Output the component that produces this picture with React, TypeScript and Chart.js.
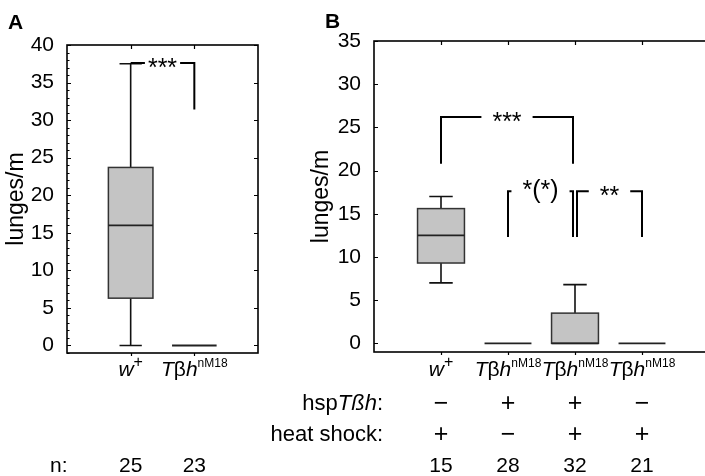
import React, { useEffect, useRef } from 'react';
import { Chart, registerables } from 'chart.js';
Chart.register(...registerables);

const FONT = '"Liberation Sans", Arial, Helvetica, sans-serif';

type Part = { t: string; it?: boolean; sup?: number };

// ---------- Panel A data ----------
const catPosA = [1, 2];
const minA = [0, 0];
const q1A = [6.3, 0];
const medA = [16, 0];
const q3A = [23.7, 0];
const maxA = [37.5, 0];
const nA = ['25', '23'];
const yTicksA = [0, 5, 10, 15, 20, 25, 30, 35, 40];
const sigFromA = [1];
const sigToA = [2];
const sigTopA = [37.6];
const sigLeftEndA = [37.6];
const sigRightEndA = [31.4];
const sigTextA = ['***'];

// ---------- Panel B data ----------
const catPosB = [1, 2, 3, 4];
const minB = [7, 0, 0, 0];
const q1B = [9.3, 0, 0, 0];
const medB = [12.5, 0, 0, 0];
const q3B = [15.6, 0, 3.5, 0];
const maxB = [17, 0, 6.8, 0];
const hspB = ['−', '+', '+', '−'];
const heatB = ['+', '−', '+', '+'];
const nB = ['15', '28', '32', '21'];
const yTicksB = [0, 5, 10, 15, 20, 25, 30, 35];
const sigFromB = [1, 2, 3];
const sigToB = [3, 3, 4];
const sigTopB = [26.2, 17.6, 17.6];
const sigLeftEndB = [20.8, 12.3, 12.3];
const sigRightEndB = [20.8, 12.3, 12.3];
const sigTextB = ['***', '*(*)', '**'];

// ---------- Labels ----------
const labelWt: Part[] = [{ t: 'w', it: true }, { t: '+', sup: 0.75 }];
const labelTbh: Part[] = [{ t: 'T', it: true }, { t: 'β' }, { t: 'h', it: true }, { t: 'nM18', sup: 0.55 }];
const catLabelsA = [labelWt, labelTbh];
const catLabelsB = [labelWt, labelTbh, labelTbh, labelTbh];
const rowLabelHsp: Part[] = [{ t: 'hsp' }, { t: 'Tßh', it: true }, { t: ':' }];
const rowLabelHeat: Part[] = [{ t: 'heat shock:' }];
const yTitle = 'lunges/m';

interface Panel {
  letter: string;
  letterX: number;
  letterY: number;
  xMax: number;
  yMin: number;
  yMax: number;
  axisW: number;
  padding: { top: number; bottom: number; left: number; right: number };
  yTicks: number[];
  minor: boolean;
  cats: number[];
  min: number[];
  q1: number[];
  med: number[];
  q3: number[];
  max: number[];
  labels: Part[][];
  rows: { label: Part[]; values: string[] }[];
  n: string[];
  nLabel: boolean;
  sigFrom: number[];
  sigTo: number[];
  sigTop: number[];
  sigLeftEnd: number[];
  sigRightEnd: number[];
  sigText: string[];
  sigPad: number;
  titleX: number;
}

const WA = 300; // width of panel A canvas
const OFFB = 240; // left offset of panel B canvas on the page
const WB = 480;

const panelA: Panel = {
  letter: 'A', letterX: 8, letterY: 29,
  xMax: 3, yMin: -1, yMax: 40, axisW: 67,
  padding: { top: 45, bottom: 123, left: 0, right: WA - 258 },
  yTicks: yTicksA, minor: true,
  cats: catPosA, min: minA, q1: q1A, med: medA, q3: q3A, max: maxA,
  labels: catLabelsA, rows: [], n: nA, nLabel: true,
  sigFrom: sigFromA, sigTo: sigToA, sigTop: sigTopA, sigLeftEnd: sigLeftEndA, sigRightEnd: sigRightEndA, sigText: sigTextA,
  sigPad: 3, titleX: 17,
};

const panelB: Panel = {
  letter: 'B', letterX: 325 - OFFB, letterY: 28,
  xMax: 5, yMin: -1, yMax: 35, axisW: 374 - OFFB,
  padding: { top: 41, bottom: 124, left: 0, right: WB - (709 - OFFB) },
  yTicks: yTicksB, minor: false,
  cats: catPosB, min: minB, q1: q1B, med: medB, q3: q3B, max: maxB,
  labels: catLabelsB,
  rows: [{ label: rowLabelHsp, values: hspB }, { label: rowLabelHeat, values: heatB }],
  n: nB, nLabel: false,
  sigFrom: sigFromB, sigTo: sigToB, sigTop: sigTopB, sigLeftEnd: sigLeftEndB, sigRightEnd: sigRightEndB, sigText: sigTextB,
  sigPad: 11, titleX: 322 - OFFB,
};

function partFont(p: Part, size: number) {
  const s = p.sup ? Math.round(size * p.sup) : size;
  return `${p.it ? 'italic ' : ''}${s}px ${FONT}`;
}
function richWidth(ctx: CanvasRenderingContext2D, parts: Part[], size: number) {
  let w = 0;
  for (const p of parts) {
    ctx.font = partFont(p, size);
    w += ctx.measureText(p.t).width;
  }
  return w;
}
function drawRich(ctx: CanvasRenderingContext2D, parts: Part[], x: number, baseline: number, size: number, align: 'left' | 'center' | 'right') {
  const w = richWidth(ctx, parts, size);
  let cx = align === 'center' ? x - w / 2 : align === 'right' ? x - w : x;
  ctx.textAlign = 'left';
  ctx.textBaseline = 'alphabetic';
  for (const p of parts) {
    ctx.font = partFont(p, size);
    ctx.fillText(p.t, cx, p.sup ? baseline - size * 0.42 : baseline);
    cx += ctx.measureText(p.t).width;
  }
}

function drawPanel(chart: Chart, P: Panel) {
  const ctx = chart.ctx;
  const a = chart.chartArea;
  const xs = chart.scales.x;
  const ys = chart.scales.y;
  const X = (v: number) => xs.getPixelForValue(v);
  const Y = (v: number) => ys.getPixelForValue(v);
  ctx.save();
  ctx.fillStyle = '#000';
  ctx.strokeStyle = '#000';

  // frame
  ctx.lineWidth = 1.6;
  ctx.strokeRect(a.left, a.top, a.right - a.left, a.bottom - a.top);

  // ticks
  ctx.lineWidth = 1.2;
  ctx.beginPath();
  for (const v of P.yTicks) {
    const py = Math.round(Y(v)) + 0.5;
    ctx.moveTo(a.left, py); ctx.lineTo(a.left + 4, py);
    ctx.moveTo(a.right, py); ctx.lineTo(a.right - 4, py);
  }
  if (P.minor) {
    for (let v = Math.ceil(P.yMin); v <= P.yMax; v++) {
      if (P.yTicks.includes(v)) continue;
      const py = Math.round(Y(v)) + 0.5;
      ctx.moveTo(a.left, py); ctx.lineTo(a.left + 2.5, py);
    }
  }
  for (const c of P.cats) {
    const px = Math.round(X(c)) + 0.5;
    ctx.moveTo(px, a.top); ctx.lineTo(px, a.top + 4);
    ctx.moveTo(px, a.bottom); ctx.lineTo(px, a.bottom + 3);
  }
  ctx.stroke();

  // boxes
  const unit = X(1) - X(0);
  const boxHalf = unit * 0.35;
  const capHalf = unit * 0.175;
  P.cats.forEach((c, i) => {
    const cx = X(c);
    const yq1 = Y(P.q1[i]);
    const yq3 = Y(P.q3[i]);
    ctx.strokeStyle = '#111';
    ctx.lineWidth = 1.6;
    ctx.beginPath();
    if (P.max[i] > P.q3[i]) {
      ctx.moveTo(cx, yq3); ctx.lineTo(cx, Y(P.max[i]));
      ctx.moveTo(cx - capHalf, Y(P.max[i])); ctx.lineTo(cx + capHalf, Y(P.max[i]));
    }
    if (P.min[i] < P.q1[i]) {
      ctx.moveTo(cx, yq1); ctx.lineTo(cx, Y(P.min[i]));
      ctx.moveTo(cx - capHalf, Y(P.min[i])); ctx.lineTo(cx + capHalf, Y(P.min[i]));
    }
    ctx.stroke();
    if (P.q3[i] > P.q1[i]) {
      ctx.fillStyle = '#c4c4c4';
      ctx.fillRect(cx - boxHalf, yq3, boxHalf * 2, yq1 - yq3);
      ctx.strokeStyle = '#333';
      ctx.lineWidth = 1.5;
      ctx.strokeRect(cx - boxHalf, yq3, boxHalf * 2, yq1 - yq3);
    }
    ctx.strokeStyle = '#222';
    ctx.lineWidth = 1.8;
    ctx.beginPath();
    ctx.moveTo(cx - boxHalf, Y(P.med[i]));
    ctx.lineTo(cx + boxHalf, Y(P.med[i]));
    ctx.stroke();
  });

  // significance brackets
  ctx.strokeStyle = '#000';
  ctx.fillStyle = '#000';
  P.sigFrom.forEach((f, k) => {
    const t = P.sigTo[k];
    let xl = X(f);
    let xr = X(t);
    if (P.sigFrom.some((ff, j) => j !== k && ff === t)) xr -= 2;
    if (P.sigTo.some((tt, j) => j !== k && tt === f)) xl += 2;
    const yt = Y(P.sigTop[k]);
    ctx.lineWidth = 2;
    ctx.beginPath();
    ctx.moveTo(xl, Y(P.sigLeftEnd[k]));
    ctx.lineTo(xl, yt);
    ctx.lineTo(xr, yt);
    ctx.lineTo(xr, Y(P.sigRightEnd[k]));
    ctx.stroke();
    ctx.font = `25px ${FONT}`;
    const m = ctx.measureText(P.sigText[k]);
    const mx = (xl + xr) / 2;
    ctx.fillStyle = '#fff';
    ctx.fillRect(mx - m.width / 2 - P.sigPad, yt - 4, m.width + 2 * P.sigPad, 8);
    ctx.fillStyle = '#000';
    ctx.textAlign = 'center';
    ctx.textBaseline = 'alphabetic';
    const base = yt + (m.actualBoundingBoxAscent - m.actualBoundingBoxDescent) / 2;
    ctx.fillText(P.sigText[k], mx, base);
  });

  // category labels
  ctx.fillStyle = '#000';
  P.cats.forEach((c, i) => drawRich(ctx, P.labels[i], X(c), 376, 21, 'center'));

  // rows
  const rowBase = [410, 441];
  P.rows.forEach((r, ri) => {
    drawRich(ctx, r.label, a.left + 9, rowBase[ri], 22, 'right');
    ctx.font = `25px ${FONT}`;
    ctx.textAlign = 'center';
    ctx.textBaseline = 'alphabetic';
    P.cats.forEach((c, i) => ctx.fillText(r.values[i], X(c), rowBase[ri] + 1));
  });

  // n row
  ctx.font = `21px ${FONT}`;
  ctx.textAlign = 'center';
  ctx.textBaseline = 'alphabetic';
  P.cats.forEach((c, i) => ctx.fillText(P.n[i], X(c), 472));
  if (P.nLabel) {
    ctx.textAlign = 'left';
    ctx.fillText('n:', 50, 472);
  }

  // panel letter
  ctx.font = `bold 21px ${FONT}`;
  ctx.textAlign = 'left';
  ctx.fillText(P.letter, P.letterX, P.letterY);

  // y title
  ctx.save();
  ctx.translate(P.titleX, (a.top + a.bottom) / 2);
  ctx.rotate(-Math.PI / 2);
  ctx.font = `23px ${FONT}`;
  ctx.textAlign = 'center';
  ctx.textBaseline = 'middle';
  ctx.fillText(yTitle, 0, 0);
  ctx.restore();

  ctx.restore();
}

function makeChart(canvas: HTMLCanvasElement, P: Panel) {
  return new Chart(canvas, {
    type: 'scatter',
    data: { datasets: [{ data: [] }] },
    options: {
      responsive: false,
      animation: false,
      layout: { padding: P.padding },
      plugins: { legend: { display: false }, tooltip: { enabled: false } },
      scales: {
        x: { type: 'linear', min: 0, max: P.xMax, display: false },
        y: {
          type: 'linear',
          min: P.yMin,
          max: P.yMax,
          afterFit: (s: any) => { s.width = P.axisW; },
          afterBuildTicks: (s: any) => { s.ticks = P.yTicks.map((v) => ({ value: v })); },
          grid: { display: false },
          border: { display: false },
          ticks: { color: '#000', font: { family: FONT, size: 21 }, padding: 5 },
        },
      },
    },
    plugins: [{ id: 'boxplotDraw', afterDraw: (c: Chart) => drawPanel(c, P) }],
  } as any);
}

export default function App() {
  const refA = useRef<HTMLCanvasElement>(null);
  const refB = useRef<HTMLCanvasElement>(null);
  useEffect(() => {
    const ca = makeChart(refA.current!, panelA);
    const cb = makeChart(refB.current!, panelB);
    return () => { ca.destroy(); cb.destroy(); };
  }, []);
  return (
    <div style={{ position: 'fixed', left: 0, top: 0, width: 705, height: 476, overflow: 'hidden', background: '#fff' }}>
      <canvas ref={refA} width={WA} height={476} style={{ position: 'absolute', left: 0, top: 0, width: WA, height: 476 }} />
      <canvas ref={refB} width={WB} height={476} style={{ position: 'absolute', left: OFFB, top: 0, width: WB, height: 476 }} />
    </div>
  );
}
